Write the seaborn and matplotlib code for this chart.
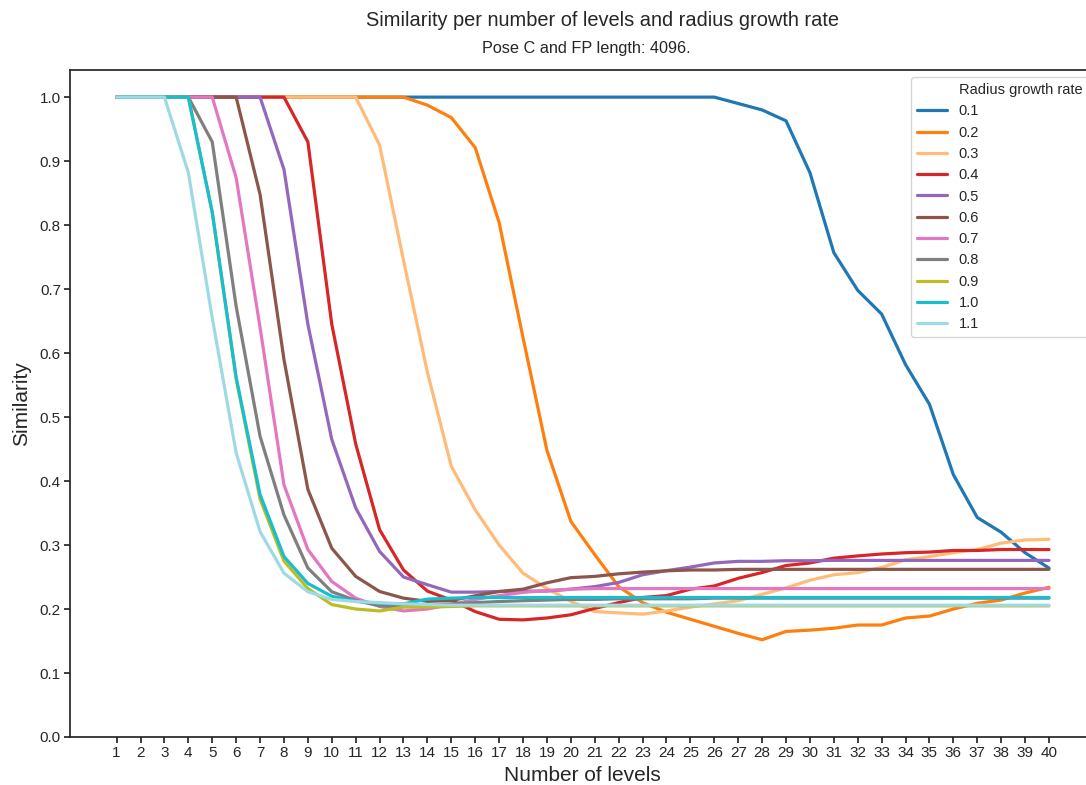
import matplotlib
matplotlib.use("Agg")
import matplotlib.pyplot as plt
import seaborn as sns
import pandas as pd
from matplotlib.lines import Line2D

# Number of levels evaluated
levels = list(range(1, 41))

# Similarity per number of levels, one list per radius growth rate
sim_01 = [1.0] * 26 + [0.99, 0.98, 0.963, 0.882, 0.757, 0.698, 0.661, 0.582,
                       0.52, 0.41, 0.343, 0.320, 0.288, 0.264]
sim_02 = [1.0] * 13 + [0.9875, 0.968, 0.921, 0.804, 0.624, 0.448, 0.337, 0.285,
                       0.235, 0.21, 0.195, 0.184, 0.173, 0.162, 0.152, 0.165,
                       0.167, 0.170, 0.175, 0.175, 0.186, 0.189, 0.200, 0.209,
                       0.214, 0.225, 0.234]
sim_03 = [1.0] * 11 + [0.925, 0.745, 0.57, 0.423, 0.355, 0.30, 0.256, 0.232,
                       0.212, 0.196, 0.194, 0.192, 0.197, 0.203, 0.208, 0.213,
                       0.223, 0.233, 0.245, 0.2535, 0.257, 0.265, 0.277, 0.282,
                       0.288, 0.293, 0.303, 0.308, 0.309]
sim_04 = [1.0] * 8 + [0.93, 0.645, 0.458, 0.324, 0.261, 0.228, 0.214, 0.196,
                      0.184, 0.183, 0.186, 0.191, 0.201, 0.21, 0.218, 0.221,
                      0.231, 0.236, 0.248, 0.257, 0.268, 0.272, 0.2795, 0.283,
                      0.286, 0.288, 0.289, 0.2915, 0.2915, 0.293, 0.293, 0.293]
sim_05 = [1.0] * 7 + [0.887, 0.645, 0.465, 0.358, 0.290, 0.250, 0.238, 0.2264,
                      0.2264, 0.2274, 0.228, 0.228, 0.231, 0.235, 0.2415, 0.2535,
                      0.260, 0.2655, 0.272, 0.2745, 0.2745, 0.2755, 0.2755,
                      0.276, 0.276, 0.276, 0.276, 0.276, 0.276, 0.276, 0.276,
                      0.276, 0.276]
sim_06 = [1.0] * 6 + [0.848, 0.59, 0.387, 0.295, 0.251, 0.2274, 0.217, 0.212,
                      0.2133, 0.2207, 0.2274, 0.231, 0.241, 0.249, 0.251, 0.255,
                      0.2577, 0.2597, 0.261, 0.261, 0.262, 0.262, 0.262, 0.262,
                      0.262, 0.262, 0.262, 0.262, 0.262, 0.262, 0.262, 0.262,
                      0.262, 0.262]
sim_07 = [1.0] * 5 + [0.874, 0.64, 0.394, 0.293, 0.243, 0.217, 0.204, 0.197,
                      0.200, 0.207, 0.215, 0.221, 0.226, 0.229, 0.231, 0.232,
                      0.232, 0.232, 0.232, 0.232, 0.232, 0.232, 0.232, 0.232,
                      0.232, 0.232, 0.232, 0.232, 0.232, 0.232, 0.232, 0.232,
                      0.232, 0.232, 0.232]
sim_08 = [1.0] * 4 + [0.93, 0.673, 0.47, 0.347, 0.264, 0.227, 0.2133, 0.205,
                      0.204, 0.206, 0.208, 0.210, 0.2117, 0.213, 0.214, 0.215,
                      0.215, 0.216, 0.216, 0.216, 0.216, 0.217, 0.217, 0.217,
                      0.217, 0.217, 0.217, 0.217, 0.217, 0.217, 0.217, 0.217,
                      0.217, 0.217, 0.217, 0.217]
sim_09 = [1.0] * 4 + [0.82, 0.56, 0.372, 0.275, 0.232, 0.207, 0.200, 0.197,
                      0.203, 0.203, 0.204, 0.205, 0.205, 0.205, 0.205, 0.205,
                      0.205, 0.205, 0.205, 0.205, 0.205, 0.205, 0.205, 0.205,
                      0.205, 0.205, 0.205, 0.205, 0.205, 0.205, 0.205, 0.205,
                      0.205, 0.205, 0.205, 0.205]
sim_10 = [1.0] * 4 + [0.82, 0.562, 0.379, 0.282, 0.240, 0.220, 0.212, 0.209,
                      0.208, 0.2155, 0.217, 0.218, 0.218, 0.218, 0.218, 0.218,
                      0.218, 0.218, 0.218, 0.218, 0.218, 0.218, 0.218, 0.218,
                      0.218, 0.218, 0.218, 0.218, 0.218, 0.218, 0.218, 0.218,
                      0.218, 0.218, 0.218, 0.218]
sim_11 = [1.0] * 3 + [0.882, 0.655, 0.444, 0.321, 0.256, 0.227, 0.215, 0.2117,
                      0.210, 0.208, 0.207, 0.206, 0.206, 0.206, 0.206, 0.206,
                      0.206, 0.206, 0.206, 0.206, 0.206, 0.206, 0.206, 0.206,
                      0.206, 0.206, 0.206, 0.206, 0.206, 0.206, 0.206, 0.206,
                      0.206, 0.206, 0.206, 0.206, 0.206]

rates = ["0.1", "0.2", "0.3", "0.4", "0.5", "0.6", "0.7", "0.8", "0.9", "1.0", "1.1"]
series = [sim_01, sim_02, sim_03, sim_04, sim_05, sim_06,
          sim_07, sim_08, sim_09, sim_10, sim_11]
colors = ["#1f77b4", "#ff7f0e", "#ffbb78", "#d62728", "#9467bd", "#8c564b",
          "#e377c2", "#7f7f7f", "#bcbd22", "#17becf", "#9edae5"]

df = pd.DataFrame({
    "Number of levels": [lv for s in series for lv in levels],
    "Similarity": [v for s in series for v in s],
    "Radius growth rate": [r for r, s in zip(rates, series) for _ in s],
})

sns.set_theme(style="ticks")
plt.rcParams["font.family"] = ["Liberation Sans", "DejaVu Sans"]
plt.rcParams["text.color"] = "#262626"

W, H = 1086, 785
fig = plt.figure(figsize=(W / 100, H / 100), dpi=100)
ax = fig.add_axes([70 / W, 1 - 737 / H, 1025.6 / W, 667 / H])

sns.lineplot(data=df, x="Number of levels", y="Similarity",
             hue="Radius growth rate", hue_order=rates, palette=colors,
             linewidth=2.3, ax=ax)

ax.set_ylim(bottom=0)
ax.set_xticks(levels)
ax.set_yticks([i / 10 for i in range(11)])
ax.set_yticklabels([f"{i / 10:.1f}" for i in range(11)])
ax.tick_params(labelsize=11, length=4, pad=2.5)
ax.set_xlabel("Number of levels", fontsize=15, labelpad=4)
ax.set_ylabel("Similarity", fontsize=15, labelpad=6)

handles, labels = ax.get_legend_handles_labels()
blank = Line2D([], [], linestyle="none")
ax.legend([blank] + handles, ["Radius growth rate"] + labels,
          loc="upper right", fontsize=10.5, labelspacing=0.5,
          handlelength=2.1)

fig.text(603 / W, 1 - 20 / H, "Similarity per number of levels and radius growth rate",
         ha="center", va="center", fontsize=14.4)
fig.text(586 / W, 1 - 48 / H, "Pose C and FP length: 4096.",
         ha="center", va="center", fontsize=11.7)

fig.savefig("out.png", dpi=100)
